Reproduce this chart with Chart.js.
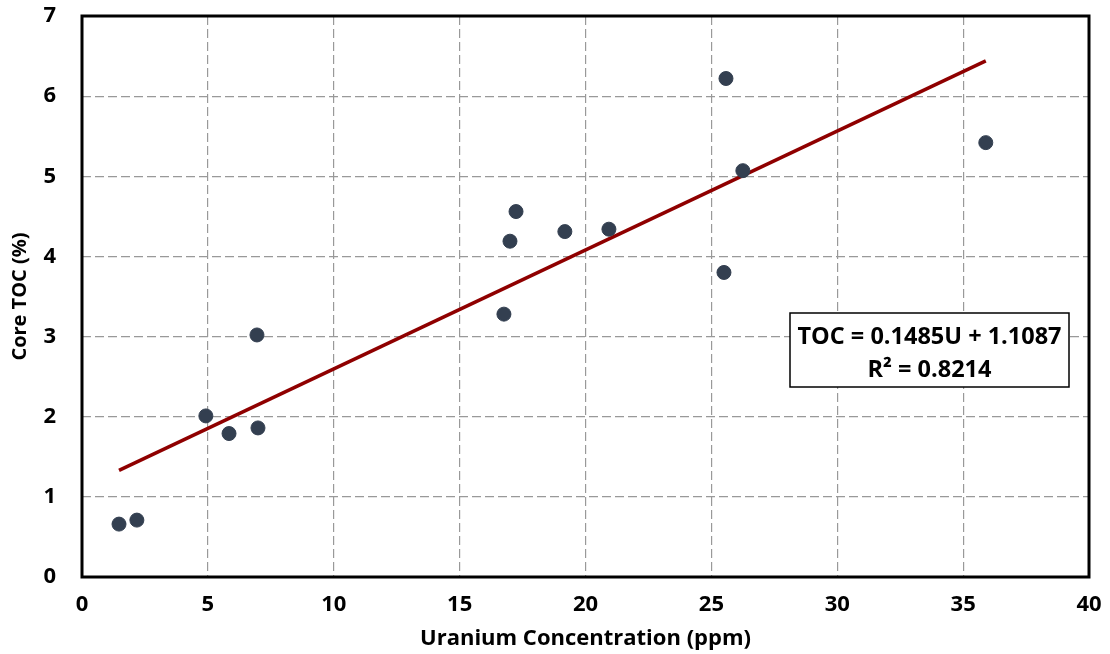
<!DOCTYPE html>
<html>
<head>
<meta charset="utf-8">
<script src="https://cdn.jsdelivr.net/npm/chart.js@4.4.0/dist/chart.umd.min.js"></script>
<style>
  html, body { margin: 0; padding: 0; background: #fff; }
  #wrap { width: 1110px; height: 654px; }
</style>
</head>
<body>
<div id="wrap"><canvas id="chart" width="1110" height="654"></canvas></div>
<script>
// Measured samples: uranium (ppm) vs core TOC (%)
const uranium = [1.47, 2.18, 4.92, 5.84, 6.95, 6.99, 16.76, 17.0, 17.24, 19.18, 20.93, 25.5, 25.58, 26.25, 35.9];
const coreToc = [0.66, 0.71, 2.01, 1.79, 3.02, 1.86, 3.28, 4.19, 4.56, 4.31, 4.34, 3.80, 6.22, 5.07, 5.42];

// Linear trend line end points
const trendX = [1.47, 35.9];
const trendY = [1.33, 6.44];

const xTicks = [0, 5, 10, 15, 20, 25, 30, 35, 40];
const yTicks = [0, 1, 2, 3, 4, 5, 6, 7];

const fitLines = ['TOC = 0.1485U + 1.1087', 'R\u00B2 = 0.8214'];

const FONT = "'Open Sans', 'Liberation Sans', sans-serif";

// Thick frame round the plot area
const frame = {
  id: 'frame',
  afterDatasetsDraw(chart) {
    const { ctx, chartArea: a } = chart;
    ctx.save();
    ctx.strokeStyle = '#000';
    ctx.lineWidth = 3;
    ctx.strokeRect(a.left, a.top, a.right - a.left, a.bottom - a.top);
    ctx.restore();
  }
};

// Equation box
const fitBox = {
  id: 'fitBox',
  afterDraw(chart) {
    const { ctx } = chart;
    const x0 = 790, y0 = 313, w = 279, h = 74;
    ctx.save();
    ctx.fillStyle = '#fff';
    ctx.fillRect(x0, y0, w, h);
    ctx.strokeStyle = '#000';
    ctx.lineWidth = 1.5;
    ctx.strokeRect(x0, y0, w, h);
    ctx.fillStyle = '#000';
    ctx.font = 'bold 23.5px ' + FONT;
    ctx.textAlign = 'center';
    ctx.textBaseline = 'middle';
    ctx.fillText(fitLines[0], x0 + w / 2, y0 + 24);
    ctx.fillText(fitLines[1], x0 + w / 2, y0 + 57);
    ctx.restore();
  }
};

new Chart(document.getElementById('chart'), {
  type: 'scatter',
  data: {
    datasets: [
      {
        label: 'Trend',
        type: 'line',
        data: trendX.map((x, i) => ({ x: x, y: trendY[i] })),
        borderColor: '#8f0000',
        borderWidth: 3.5,
        pointRadius: 0,
        fill: false,
        order: 2
      },
      {
        label: 'Samples',
        data: uranium.map((x, i) => ({ x: x, y: coreToc[i] })),
        backgroundColor: '#333f50',
        borderColor: '#333f50',
        pointRadius: 7,
        order: 1
      }
    ]
  },
  options: {
    responsive: false,
    animation: false,
    layout: { padding: { top: 16, right: 21, left: 0, bottom: 0 } },
    plugins: {
      legend: { display: false },
      tooltip: { enabled: false }
    },
    scales: {
      x: {
        type: 'linear',
        min: 0,
        max: 40,
        afterBuildTicks: s => { s.ticks = xTicks.map(v => ({ value: v })); },
        afterFit: s => { s.height = 77; s.paddingLeft = 0; s.paddingRight = 0; },
        border: { display: false, dash: [9, 4] },
        grid: { color: '#999', lineWidth: 1.2, drawTicks: false },
        ticks: { padding: 15, color: '#000', font: { family: FONT, size: 22, weight: 'bold' } },
        title: {
          display: true,
          text: 'Uranium Concentration (ppm)',
          color: '#000',
          padding: { top: 0, bottom: 2 },
          font: { family: FONT, size: 22, weight: 'bold' }
        }
      },
      y: {
        type: 'linear',
        min: 0,
        max: 7,
        afterBuildTicks: s => { s.ticks = yTicks.map(v => ({ value: v })); },
        afterFit: s => { s.width = 82; s.paddingTop = 0; s.paddingBottom = 0; },
        border: { display: false, dash: [9, 4] },
        grid: { color: '#999', lineWidth: 1.2, drawTicks: false },
        ticks: { padding: 26, color: '#000', font: { family: FONT, size: 22, weight: 'bold' } },
        title: {
          display: true,
          text: 'Core TOC (%)',
          color: '#000',
          padding: { top: 8, bottom: 0 },
          font: { family: FONT, size: 20, weight: 'bold' }
        }
      }
    }
  },
  plugins: [frame, fitBox]
});
</script>
</body>
</html>
